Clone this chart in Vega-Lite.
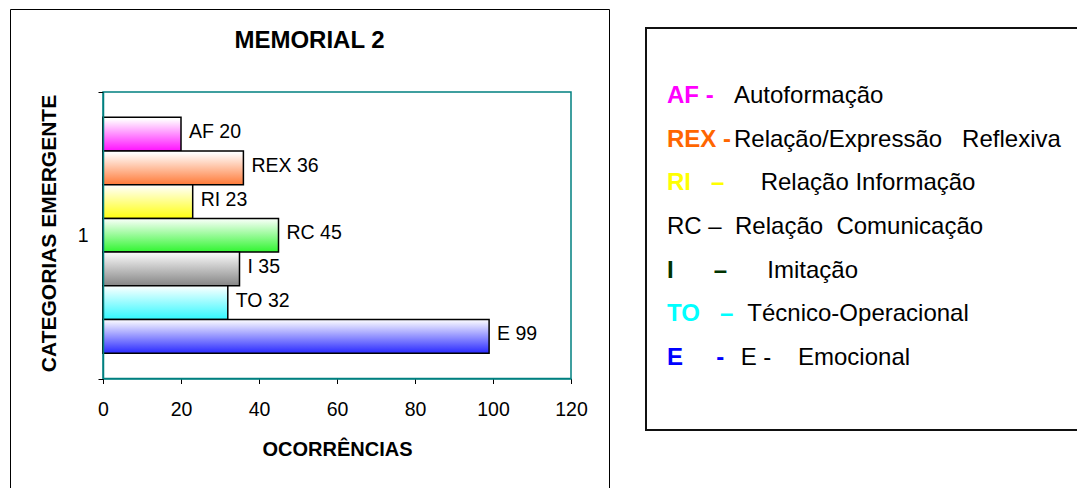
{
  "$schema": "https://vega.github.io/schema/vega-lite/v6.json",
  "padding": {"left": 9, "top": -2, "right": 0, "bottom": 0},
  "background": "white",
  "config": {
    "font": "Liberation Sans",
    "text": {"font": "Liberation Sans"},
    "title": {"font": "Liberation Sans"},
    "axis": {"labelFont": "Liberation Sans", "titleFont": "Liberation Sans"}
  },
  "datasets": {
    "barras": [
      {"grupo": "1", "cat": "AF", "n": 20, "rotulo": "AF 20"},
      {"grupo": "1", "cat": "REX", "n": 36, "rotulo": "REX 36"},
      {"grupo": "1", "cat": "RI", "n": 23, "rotulo": "RI 23"},
      {"grupo": "1", "cat": "RC", "n": 45, "rotulo": "RC 45"},
      {"grupo": "1", "cat": "I", "n": 35, "rotulo": "I 35"},
      {"grupo": "1", "cat": "TO", "n": 32, "rotulo": "TO 32"},
      {"grupo": "1", "cat": "E", "n": 99, "rotulo": "E 99"}
    ],
    "legenda": [
      {"item": "AF", "prefixo": "AF\u00a0-", "texto": "Autoformação"},
      {"item": "REX", "prefixo": "REX\u00a0-", "texto": "Relação/Expressão\u00a0\u00a0\u00a0Reflexiva"},
      {"item": "RI", "prefixo": "RI\u00a0\u00a0\u00a0–", "texto": "\u200b\u00a0\u00a0\u00a0\u00a0Relação Informação"},
      {"item": "RC", "prefixo": "", "texto": "RC\u00a0–\u00a0\u00a0Relação\u00a0\u00a0Comunicação"},
      {"item": "I", "prefixo": "I\u00a0\u00a0\u00a0\u00a0\u00a0\u00a0–", "texto": "\u200b\u00a0\u00a0\u00a0\u00a0\u00a0Imitação"},
      {"item": "TO", "prefixo": "TO\u00a0\u00a0\u00a0–", "texto": "\u200b\u00a0\u00a0Técnico-Operacional"},
      {"item": "E", "prefixo": "E\u00a0\u00a0\u00a0\u00a0\u00a0-", "texto": "\u200b\u00a0E\u00a0-\u00a0\u00a0\u00a0\u00a0Emocional"}
    ]
  },
  "spacing": 35,
  "hconcat": [
    {
      "width": 599,
      "height": 479,
      "view": {"stroke": "black", "strokeWidth": 1},
      "title": {"text": "MEMORIAL 2", "fontSize": 24, "fontWeight": "bold", "color": "black", "anchor": "middle", "frame": "group", "baseline": "middle", "offset": -32, "dy": 34},
      "data": {"name": "barras"},
      "layer": [
        {
          "transform": [{"filter": "datum.cat === 'E'"}],
          "mark": {"type": "rect", "fill": "transparent", "stroke": "#008080", "strokeWidth": 1.5},
          "encoding": {
            "x": {"datum": 0, "type": "quantitative"},
            "x2": {"datum": 120},
            "y": {"field": "grupo", "type": "nominal"}
          }
        },
        {
          "encoding": {
            "x": {
              "field": "n", "type": "quantitative",
              "scale": {"domain": [0, 120], "range": [93, 561], "nice": false, "zero": true},
              "axis": {
                "values": [0, 20, 40, 60, 80, 100, 120], "offset": -109.5, "grid": false,
                "title": "OCORRÊNCIAS", "titleFontSize": 20, "titleFontWeight": "bold", "titleColor": "black", "titlePadding": 20,
                "labelFontSize": 19.5, "labelColor": "black", "labelPadding": 17, "labelFlush": false, "labelOverlap": false,
                "tickColor": "black", "tickSize": 5, "domainColor": "#008080", "domainWidth": 1.5
              }
            },
            "y": {
              "field": "grupo", "type": "nominal",
              "scale": {"range": [83, 369.5], "paddingInner": 0, "paddingOuter": 0},
              "axis": {
                "offset": -93, "tickBand": "extent", "tickSize": 5, "tickColor": "black",
                "domainColor": "#008080", "domainWidth": 1.5,
                "labelFontSize": 19.5, "labelColor": "black", "labelPadding": 10, "labelAngle": 0,
                "title": "CATEGORIAS EMERGENTE", "titleFontSize": 21, "titleFontWeight": "bold", "titleColor": "black",
                "titleX": -54, "titleY": 224, "titleBaseline": "middle", "titleAngle": 270
              }
            },
            "yOffset": {
              "field": "cat", "type": "nominal",
              "sort": ["AF", "REX", "RI", "RC", "I", "TO", "E"],
              "scale": {"paddingInner": 0, "paddingOuter": 0.753}
            }
          },
          "layer": [
            {"transform": [{"filter": "datum.cat === 'AF'"}],
             "mark": {"type": "bar", "stroke": "black", "strokeWidth": 1.5,
               "fill": {"gradient": "linear", "x1": 0, "y1": 0, "x2": 0, "y2": 1, "stops": [{"offset": 0.05, "color": "#ffffff"}, {"offset": 1, "color": "#ff10ff"}]}}},
            {"transform": [{"filter": "datum.cat === 'REX'"}],
             "mark": {"type": "bar", "stroke": "black", "strokeWidth": 1.5,
               "fill": {"gradient": "linear", "x1": 0, "y1": 0, "x2": 0, "y2": 1, "stops": [{"offset": 0.05, "color": "#ffffff"}, {"offset": 1, "color": "#ff7a38"}]}}},
            {"transform": [{"filter": "datum.cat === 'RI'"}],
             "mark": {"type": "bar", "stroke": "black", "strokeWidth": 1.5,
               "fill": {"gradient": "linear", "x1": 0, "y1": 0, "x2": 0, "y2": 1, "stops": [{"offset": 0.05, "color": "#fffff5"}, {"offset": 1, "color": "#ffff10"}]}}},
            {"transform": [{"filter": "datum.cat === 'RC'"}],
             "mark": {"type": "bar", "stroke": "black", "strokeWidth": 1.5,
               "fill": {"gradient": "linear", "x1": 0, "y1": 0, "x2": 0, "y2": 1, "stops": [{"offset": 0.05, "color": "#f2fff2"}, {"offset": 1, "color": "#30f530"}]}}},
            {"transform": [{"filter": "datum.cat === 'I'"}],
             "mark": {"type": "bar", "stroke": "black", "strokeWidth": 1.5,
               "fill": {"gradient": "linear", "x1": 0, "y1": 0, "x2": 0, "y2": 1, "stops": [{"offset": 0.05, "color": "#f6f6f6"}, {"offset": 1, "color": "#858585"}]}}},
            {"transform": [{"filter": "datum.cat === 'TO'"}],
             "mark": {"type": "bar", "stroke": "black", "strokeWidth": 1.5,
               "fill": {"gradient": "linear", "x1": 0, "y1": 0, "x2": 0, "y2": 1, "stops": [{"offset": 0.05, "color": "#f4ffff"}, {"offset": 1, "color": "#30f8ff"}]}}},
            {"transform": [{"filter": "datum.cat === 'E'"}],
             "mark": {"type": "bar", "stroke": "black", "strokeWidth": 1.5,
               "fill": {"gradient": "linear", "x1": 0, "y1": 0, "x2": 0, "y2": 1, "stops": [{"offset": 0.05, "color": "#f4f4ff"}, {"offset": 1, "color": "#2a2aff"}]}}},
            {"mark": {"type": "text", "align": "left", "baseline": "middle", "dx": 8, "dy": -2, "fontSize": 19.5, "color": "black"},
             "encoding": {"text": {"field": "rotulo"}}}
          ]
        }
      ]
    },
    {
      "spacing": 0,
      "vconcat": [
        {
          "width": 434,
          "height": 17,
          "view": {"stroke": "transparent", "fill": "transparent"},
          "data": {"values": []},
          "mark": {"type": "point"}
        },
        {
          "width": 434,
          "height": 402,
          "view": {"stroke": "#111111", "strokeWidth": 2},
          "data": {"name": "legenda"},
          "encoding": {
            "y": {"field": "item", "type": "nominal",
                  "scale": {"type": "point", "domain": ["AF", "REX", "RI", "RC", "I", "TO", "E"], "range": [68, 330], "padding": 0},
                  "axis": null}
          },
          "layer": [
            {"mark": {"type": "text", "align": "left", "baseline": "middle", "x": 21, "fontSize": 24, "fontWeight": "bold"},
             "encoding": {
               "text": {"field": "prefixo"},
               "color": {"field": "item", "type": "nominal",
                         "scale": {"domain": ["AF", "REX", "RI", "RC", "I", "TO", "E"], "range": ["#ff00ff", "#ff6600", "#ffff00", "#000000", "#003300", "#00ffff", "#0000ff"]},
                         "legend": null}
             }},
            {"transform": [{"filter": "datum.item !== 'RC'"}],
             "mark": {"type": "text", "align": "left", "baseline": "middle", "x": 88, "fontSize": 24, "color": "black"},
             "encoding": {"text": {"field": "texto"}}},
            {"transform": [{"filter": "datum.item === 'RC'"}],
             "mark": {"type": "text", "align": "left", "baseline": "middle", "x": 21, "fontSize": 24, "color": "black"},
             "encoding": {"text": {"field": "texto"}}}
          ]
        }
      ]
    }
  ]
}
